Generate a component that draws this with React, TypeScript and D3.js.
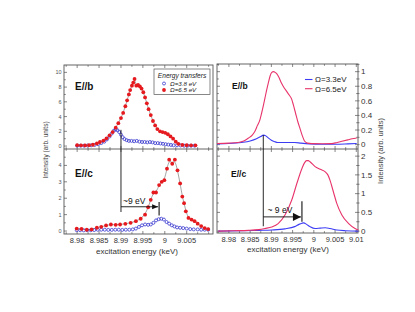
import React, { useEffect, useRef } from "react";
import * as d3 from "d3";

type Pt = [number, number];

// measured RIXS-type excitation spectra (left panel), keV vs intensity
const expB65: Pt[] = [
  [8.98, 0.12], [8.9809, 0.1], [8.9818, 0.08], [8.9827, 0.12], [8.9836, 0.18], [8.9845, 0.35],
  [8.9852, 0.55], [8.986, 0.75], [8.9867, 1.05], [8.9874, 1.45], [8.9881, 1.9], [8.9888, 2.5],
  [8.9894, 3.1], [8.99, 3.8], [8.9905, 4.5], [8.991, 5.4], [8.9914, 6.2], [8.9918, 7.0],
  [8.9921, 7.6], [8.9925, 8.2], [8.9928, 8.6], [8.9931, 9.1], [8.9935, 8.2], [8.9939, 8.3],
  [8.9943, 8.1], [8.9947, 7.8], [8.9951, 7.3], [8.9955, 6.6], [8.9959, 5.8], [8.9963, 5.0],
  [8.9968, 4.2], [8.9973, 3.4], [8.9978, 2.8], [8.9983, 2.3], [8.9989, 2.0], [8.9995, 1.9],
  [9.0001, 1.8], [9.0007, 1.6], [9.0013, 1.3], [9.0019, 1.0], [9.0025, 0.6], [9.0031, 0.3],
  [9.004, 0.15], [9.005, 0.12], [9.006, 0.1], [9.007, 0.1],
];
const expB38: Pt[] = [
  [8.98, 0.05], [8.9808, 0.05], [8.9816, 0.05], [8.9824, 0.08], [8.9832, 0.1], [8.984, 0.15],
  [8.9848, 0.25], [8.9855, 0.4], [8.9862, 0.6], [8.9868, 0.9], [8.9874, 1.3], [8.9879, 1.7],
  [8.9884, 2.1], [8.9888, 2.25], [8.9892, 2.15], [8.9896, 1.9], [8.99, 1.55], [8.9904, 1.2],
  [8.9908, 0.95], [8.9913, 0.8], [8.9918, 0.7], [8.9924, 0.7], [8.993, 0.65], [8.9936, 0.7],
  [8.9942, 0.6], [8.9948, 0.55], [8.9954, 0.55], [8.996, 0.5], [8.9966, 0.55], [8.9972, 0.5],
  [8.9978, 0.4], [8.9984, 0.4], [8.999, 0.35], [8.9996, 0.3], [9.0002, 0.25], [9.0008, 0.2],
  [9.0014, 0.15], [9.002, 0.1], [9.0028, 0.1], [9.0036, 0.08], [9.0044, 0.05], [9.0052, 0.05],
  [9.006, 0.05], [9.0068, 0.05],
];
const expC65: Pt[] = [
  [8.9799, 0.15], [8.981, 0.13], [8.9822, 0.08], [8.9833, 0.1], [8.9845, 0.2], [8.9855, 0.26],
  [8.9866, 0.34], [8.9877, 0.4], [8.9888, 0.38], [8.9898, 0.4], [8.991, 0.44], [8.9922, 0.5],
  [8.9934, 0.6], [8.9945, 0.75], [8.9955, 1.0], [8.9962, 1.45], [8.9968, 1.9], [8.9974, 2.35],
  [8.998, 2.35], [8.9987, 2.8], [8.9993, 3.0], [8.9999, 3.1], [9.0005, 3.8], [9.001, 4.35],
  [9.0017, 4.1], [9.0023, 4.35], [9.0029, 3.7], [9.0035, 2.9], [9.004, 2.1], [9.0044, 1.7],
  [9.0048, 1.2], [9.0054, 0.8], [9.0061, 0.7], [9.0068, 0.6], [9.0075, 0.45], [9.0083, 0.3],
  [9.0091, 0.18], [9.0099, 0.12],
];
const expC38: Pt[] = [
  [8.9799, 0.05], [8.9807, 0.05], [8.9815, 0.04], [8.9823, 0.05], [8.9831, 0.05], [8.9839, 0.06],
  [8.9847, 0.08], [8.9855, 0.08], [8.9863, 0.08], [8.9871, 0.07], [8.9879, 0.07], [8.9887, 0.08],
  [8.9895, 0.08], [8.9903, 0.07], [8.9911, 0.08], [8.9919, 0.08], [8.9927, 0.1], [8.9934, 0.15],
  [8.9941, 0.25], [8.9948, 0.35], [8.9955, 0.4], [8.9962, 0.38], [8.9968, 0.4], [8.9974, 0.5],
  [8.998, 0.65], [8.9986, 0.72], [8.9992, 0.75], [8.9998, 0.7], [9.0004, 0.55], [9.001, 0.45],
  [9.0016, 0.35], [9.0022, 0.28], [9.0028, 0.22], [9.0035, 0.2], [9.0042, 0.18], [9.005, 0.15],
  [9.0058, 0.12], [9.0066, 0.1], [9.0075, 0.1], [9.0083, 0.08], [9.0091, 0.08], [9.0099, 0.08],
];

// calculated spectra (right panel)
const calcB65: Pt[] = [
  [8.9772, 0.015], [8.98, 0.02], [8.9822, 0.03], [8.9835, 0.05], [8.9846, 0.09], [8.9855, 0.13],
  [8.9861, 0.18], [8.9867, 0.26], [8.9873, 0.34], [8.9877, 0.43], [8.9881, 0.53], [8.9885, 0.64],
  [8.9889, 0.75], [8.9893, 0.85], [8.9897, 0.94], [8.9901, 0.99], [8.9905, 1.0], [8.9909, 0.99],
  [8.9913, 0.97], [8.9918, 0.92], [8.9924, 0.84], [8.993, 0.78], [8.9936, 0.73], [8.9942, 0.68],
  [8.9948, 0.62], [8.9952, 0.54], [8.9957, 0.43], [8.9962, 0.32], [8.9968, 0.21], [8.9973, 0.12],
  [8.9978, 0.05], [8.9985, 0.02], [8.9995, 0.014], [9.002, 0.012], [9.0042, 0.014], [9.0055, 0.03],
  [9.0066, 0.045], [9.008, 0.065], [9.009, 0.08], [9.0101, 0.09],
];
const calcB33: Pt[] = [
  [8.9772, 0.01], [8.98, 0.015], [8.983, 0.03], [8.985, 0.05], [8.9865, 0.08], [8.9875, 0.11],
  [8.9881, 0.13], [8.9887, 0.12], [8.9893, 0.09], [8.99, 0.06], [8.9908, 0.04], [8.9915, 0.03],
  [8.9935, 0.03], [8.9955, 0.03], [8.997, 0.02], [8.999, 0.01], [9.002, 0.005], [9.005, 0.005],
  [9.008, 0.01], [9.0101, 0.015],
];
const calcC65: Pt[] = [
  [8.9775, 0.0], [8.981, 0.01], [8.9846, 0.02], [8.987, 0.04], [8.9885, 0.07], [8.9901, 0.11],
  [8.9916, 0.2], [8.9932, 0.43], [8.9948, 0.83], [8.996, 1.27], [8.9972, 1.67], [8.9978, 1.82],
  [8.9983, 1.88], [8.9987, 1.88], [8.9991, 1.85], [9.0003, 1.72], [9.0015, 1.65], [9.0027, 1.58],
  [9.0033, 1.5], [9.0038, 1.36], [9.0046, 1.05], [9.0054, 0.74], [9.0066, 0.43], [9.0082, 0.2],
  [9.0097, 0.07], [9.0105, 0.03],
];
const calcC33: Pt[] = [
  [8.9775, 0.0], [8.983, 0.01], [8.987, 0.02], [8.9901, 0.03], [8.9932, 0.06], [8.9955, 0.12],
  [8.9965, 0.18], [8.9972, 0.21], [8.9976, 0.22], [8.9983, 0.18], [8.9991, 0.12], [9.0003, 0.07],
  [9.0015, 0.08], [9.0027, 0.09], [9.0038, 0.07], [9.0054, 0.03], [9.0075, 0.01], [9.0105, 0.0],
];

const xTicksL = [8.98, 8.985, 8.99, 8.995, 9, 9.005];
const xTicksR = [8.98, 8.985, 8.99, 8.995, 9, 9.005, 9.01];
const yTicksLB = [0, 2, 4, 6, 8, 10];
const yTicksLC = [0, 1, 2, 3, 4];
const yTicksRB = [0, 0.2, 0.4, 0.6, 0.8, 1];
const yTicksRC = [0, 0.5, 1, 1.5, 2];

// ~9 eV shift markers, [keV, intensity]
const shiftL = { x0: 8.99, x1: 8.9987, y: 1.48, barLo: 0.94, barHi: 1.77, lineBot: 1.16, lineTop: 2.2 };
const shiftR = { x0: 8.9881, x1: 8.9972, y: 0.38, barLo: 0.25, barHi: 0.8, lineBot: 0.13, lineTop: 0.13 };

const FONT = "'Liberation Sans', Arial, sans-serif";
const AX = "#555";
const RED = "#e5191e";
const BLUE = "#3a3acf";
const CRED = "#e8336a";
const CBLUE = "#3c3cf5";

const App: React.FC = () => {
  const svgRef = useRef<SVGSVGElement | null>(null);

  useEffect(() => {
    if (!svgRef.current) return;
    const svg = d3.select(svgRef.current);
    svg.selectAll("*").remove();
    svg.attr("width", 415).attr("height", 312).style("font-family", FONT);

    // ---------- left panel: experiment ----------
    const L = { x0: 64, x1: 213, top: 65, mid: 149, bot: 234 };
    const xL = d3.scaleLinear().domain([8.977, 9.011]).range([L.x0, L.x1]);
    const yLB = d3.scaleLinear().domain([-0.4, 11]).range([L.mid, L.top]);
    const yLC = d3.scaleLinear().domain([-0.18, 5]).range([L.bot, L.mid]);

    // ---------- right panel: calculation ----------
    const R = { x0: 217, x1: 358, top: 64, mid: 149, bot: 233 };
    const xR = d3.scaleLinear().domain([8.9772, 9.0104]).range([R.x0, R.x1]);
    const yRB = d3.scaleLinear().domain([-0.06, 1.105]).range([R.mid, R.top]);
    const yRC = d3.scaleLinear().domain([-0.05, 2.19]).range([R.bot, R.mid]);

    const g = svg.append("g");

    const frame = (P: typeof L) => {
      g.append("rect").attr("x", P.x0).attr("y", P.top).attr("width", P.x1 - P.x0)
        .attr("height", P.bot - P.top).attr("fill", "none").attr("stroke", AX).attr("stroke-width", 0.9);
      g.append("line").attr("x1", P.x0).attr("x2", P.x1).attr("y1", P.mid).attr("y2", P.mid)
        .attr("stroke", AX).attr("stroke-width", 0.9);
    };
    frame(L);
    frame(R);

    // x ticks on top, middle and bottom lines
    const xTickMarks = (P: typeof L, x: d3.ScaleLinear<number, number>, ticks: number[]) => {
      const minor = d3.range(8.9775, 9.0105, 0.0025).filter((v) => x(v) > P.x0 + 1 && x(v) < P.x1 - 1);
      const tg = g.append("g").attr("stroke", AX).attr("stroke-width", 0.7);
      minor.forEach((v) => {
        const major = ticks.some((t) => Math.abs(t - v) < 1e-6);
        const len = major ? 3 : 1.8;
        const px = x(v);
        tg.append("line").attr("x1", px).attr("x2", px).attr("y1", P.top).attr("y2", P.top + len);
        tg.append("line").attr("x1", px).attr("x2", px).attr("y1", P.mid - len).attr("y2", P.mid + len);
        tg.append("line").attr("x1", px).attr("x2", px).attr("y1", P.bot).attr("y2", P.bot - len);
      });
      g.append("g").selectAll("text").data(ticks).enter().append("text")
        .attr("x", (d) => x(d)).attr("y", P.bot + 9).attr("text-anchor", "middle")
        .attr("font-size", 7.5).attr("fill", "#333").text((d) => String(d));
    };
    xTickMarks(L, xL, xTicksL);
    xTickMarks(R, xR, xTicksR);

    // left y axis (small labels, on the left)
    const yLeft = (y: d3.ScaleLinear<number, number>, ticks: number[], step: number) => {
      const [lo, hi] = y.domain();
      const tg = g.append("g").attr("stroke", AX).attr("stroke-width", 0.7);
      d3.range(Math.ceil(lo / step) * step, hi, step).forEach((v) => {
        const major = ticks.some((t) => Math.abs(t - v) < 1e-6);
        tg.append("line").attr("x1", L.x0).attr("x2", L.x0 + (major ? 3 : 1.8)).attr("y1", y(v)).attr("y2", y(v));
      });
      g.append("g").selectAll("text").data(ticks).enter().append("text")
        .attr("x", L.x0 - 2.5).attr("y", (d) => y(d) + 2).attr("text-anchor", "end")
        .attr("font-size", 5.5).attr("fill", "#555").text((d) => String(d));
    };
    yLeft(yLB, yTicksLB, 1);
    yLeft(yLC, yTicksLC, 0.5);

    // right y axis (labels on the right side)
    const yRight = (y: d3.ScaleLinear<number, number>, ticks: number[], step: number) => {
      const [lo, hi] = y.domain();
      const tg = g.append("g").attr("stroke", AX).attr("stroke-width", 0.7);
      d3.range(Math.ceil(lo / step - 1e-9) * step, hi, step).forEach((v) => {
        const major = ticks.some((t) => Math.abs(t - v) < 1e-6);
        const len = major ? 3 : 1.8;
        tg.append("line").attr("x1", R.x1 - len).attr("x2", R.x1 + 1.5).attr("y1", y(v)).attr("y2", y(v));
        tg.append("line").attr("x1", R.x0).attr("x2", R.x0 + len).attr("y1", y(v)).attr("y2", y(v));
      });
      g.append("g").selectAll("text").data(ticks).enter().append("text")
        .attr("x", R.x1 + 3).attr("y", (d) => y(d) + 2.7).attr("text-anchor", "start")
        .attr("font-size", 8).attr("fill", "#333").text((d) => String(d));
    };
    yRight(yRB, yTicksRB, 0.1);
    yRight(yRC, yTicksRC, 0.25);

    // axis titles
    g.append("text").attr("transform", "translate(48,150) rotate(-90)").attr("text-anchor", "middle")
      .attr("font-size", 6.5).attr("fill", "#444").text("Intensity (arb. units)");
    g.append("text").attr("transform", "translate(383,151) rotate(-90)").attr("text-anchor", "middle")
      .attr("font-size", 7.5).attr("fill", "#444").text("Intensity (arb. units)");
    g.append("text").attr("x", 137).attr("y", 254).attr("text-anchor", "middle")
      .attr("font-size", 8).attr("fill", "#333").text("excitation energy (keV)");
    g.append("text").attr("x", 288).attr("y", 252).attr("text-anchor", "middle")
      .attr("font-size", 8).attr("fill", "#333").text("excitation energy (keV)");

    // panel labels
    const label = (x: number, y: number, t: string, size: number) =>
      g.append("text").attr("x", x).attr("y", y).attr("font-size", size).attr("font-weight", "bold")
        .attr("fill", "#111").text(t);
    label(75, 89.5, "E//b", 10);
    label(75, 177, "E//c", 10);
    label(232, 89, "E//b", 8.5);
    label(231, 177, "E//c", 8.5);

    // ---------- left data ----------
    const fitLine = (y: d3.ScaleLinear<number, number>) =>
      d3.line<Pt>().x((d) => xL(d[0])).y((d) => y(d[1])).curve(d3.curveBasis);
    g.append("path").attr("d", fitLine(yLB)(expB65)).attr("fill", "none").attr("stroke", "#666").attr("stroke-width", 0.6);
    g.append("path").attr("d", fitLine(yLC)(expC65)).attr("fill", "none").attr("stroke", "#666").attr("stroke-width", 0.6);

    const openDots = (data: Pt[], y: d3.ScaleLinear<number, number>) =>
      g.append("g").selectAll("circle").data(data).enter().append("circle")
        .attr("cx", (d) => xL(d[0])).attr("cy", (d) => y(d[1])).attr("r", 1.5)
        .attr("fill", "none").attr("stroke", BLUE).attr("stroke-width", 0.8);
    const fullDots = (data: Pt[], y: d3.ScaleLinear<number, number>) =>
      g.append("g").selectAll("circle").data(data).enter().append("circle")
        .attr("cx", (d) => xL(d[0])).attr("cy", (d) => y(d[1])).attr("r", 1.9).attr("fill", RED);
    openDots(expB38, yLB);
    fullDots(expB65, yLB);
    openDots(expC38, yLC);
    fullDots(expC65, yLC);

    // legend (left)
    g.append("rect").attr("x", 154).attr("y", 69).attr("width", 56).attr("height", 25.5)
      .attr("fill", "#fff").attr("stroke", AX).attr("stroke-width", 0.7);
    g.append("text").attr("x", 182).attr("y", 77.5).attr("text-anchor", "middle").attr("font-size", 6.6)
      .attr("font-style", "italic").attr("fill", "#222").text("Energy transfers");
    g.append("circle").attr("cx", 164).attr("cy", 83.5).attr("r", 1.5).attr("fill", "none")
      .attr("stroke", BLUE).attr("stroke-width", 0.8);
    g.append("circle").attr("cx", 164).attr("cy", 90).attr("r", 1.9).attr("fill", RED);
    g.append("text").attr("x", 170).attr("y", 85.7).attr("font-size", 6.2).attr("font-style", "italic")
      .attr("fill", "#222").text("Ω=3.8 eV");
    g.append("text").attr("x", 170).attr("y", 92.2).attr("font-size", 6.2).attr("font-style", "italic")
      .attr("fill", "#222").text("Ω=6.5 eV");

    // ---------- right data ----------
    const calcLine = (y: d3.ScaleLinear<number, number>) =>
      d3.line<Pt>().x((d) => xR(d[0])).y((d) => y(d[1])).curve(d3.curveMonotoneX);
    g.append("path").attr("d", calcLine(yRB)(calcB33)).attr("fill", "none").attr("stroke", CBLUE).attr("stroke-width", 1.1);
    g.append("path").attr("d", calcLine(yRB)(calcB65)).attr("fill", "none").attr("stroke", CRED).attr("stroke-width", 1.1);
    g.append("path").attr("d", calcLine(yRC)(calcC33)).attr("fill", "none").attr("stroke", CBLUE).attr("stroke-width", 1.1);
    g.append("path").attr("d", calcLine(yRC)(calcC65)).attr("fill", "none").attr("stroke", CRED).attr("stroke-width", 1.1);

    // legend (right)
    [["Ω=3.3eV", CBLUE, 79.5], ["Ω=6.5eV", CRED, 88.7]].forEach(([t, c, yy]) => {
      g.append("line").attr("x1", 305).attr("x2", 312.5).attr("y1", yy as number).attr("y2", yy as number)
        .attr("stroke", c as string).attr("stroke-width", 1.1);
      g.append("text").attr("x", 315).attr("y", (yy as number) + 2.8).attr("font-size", 8)
        .attr("fill", "#222").text(t as string);
    });

    // ---------- ~9 eV markers ----------
    const defs = svg.append("defs");
    defs.append("marker").attr("id", "ah").attr("viewBox", "0 0 10 10").attr("refX", 10).attr("refY", 5)
      .attr("markerWidth", 6).attr("markerHeight", 6).attr("markerUnits", "userSpaceOnUse")
      .attr("orient", "auto").append("path").attr("d", "M0,1L10,5L0,9Z").attr("fill", "#111");
    defs.append("marker").attr("id", "ah2").attr("viewBox", "0 0 10 10").attr("refX", 10).attr("refY", 5)
      .attr("markerWidth", 9).attr("markerHeight", 8).attr("markerUnits", "userSpaceOnUse")
      .attr("orient", "auto").append("path").attr("d", "M0,0L10,5L0,10Z").attr("fill", "#111");

    const shift = (s: typeof shiftL, x: d3.ScaleLinear<number, number>,
      yTop: d3.ScaleLinear<number, number>, yBot: d3.ScaleLinear<number, number>,
      marker: string, text: string, tx: number, ty: number) => {
      const a = g.append("g").attr("stroke", "#111").attr("stroke-width", 0.9);
      a.append("line").attr("x1", x(s.x0)).attr("x2", x(s.x0)).attr("y1", yTop(s.lineTop)).attr("y2", yBot(s.lineBot));
      a.append("line").attr("x1", x(s.x0)).attr("x2", x(s.x1) - 1).attr("y1", yBot(s.y)).attr("y2", yBot(s.y))
        .attr("marker-end", `url(#${marker})`);
      a.append("line").attr("x1", x(s.x1)).attr("x2", x(s.x1)).attr("y1", yBot(s.barHi)).attr("y2", yBot(s.barLo))
        .attr("stroke-width", 1.1);
      g.append("text").attr("x", tx).attr("y", ty).attr("font-size", 8.5).attr("fill", "#111").text(text);
    };
    shift(shiftL, xL, yLB, yLC, "ah", "~9 eV", 123, 203.5);
    shift(shiftR, xR, yRB, yRC, "ah2", "~ 9 eV", 267.5, 213);
  }, []);

  return <svg ref={svgRef} style={{ position: "absolute", left: 0, top: 0 }}></svg>;
};

export default App;
